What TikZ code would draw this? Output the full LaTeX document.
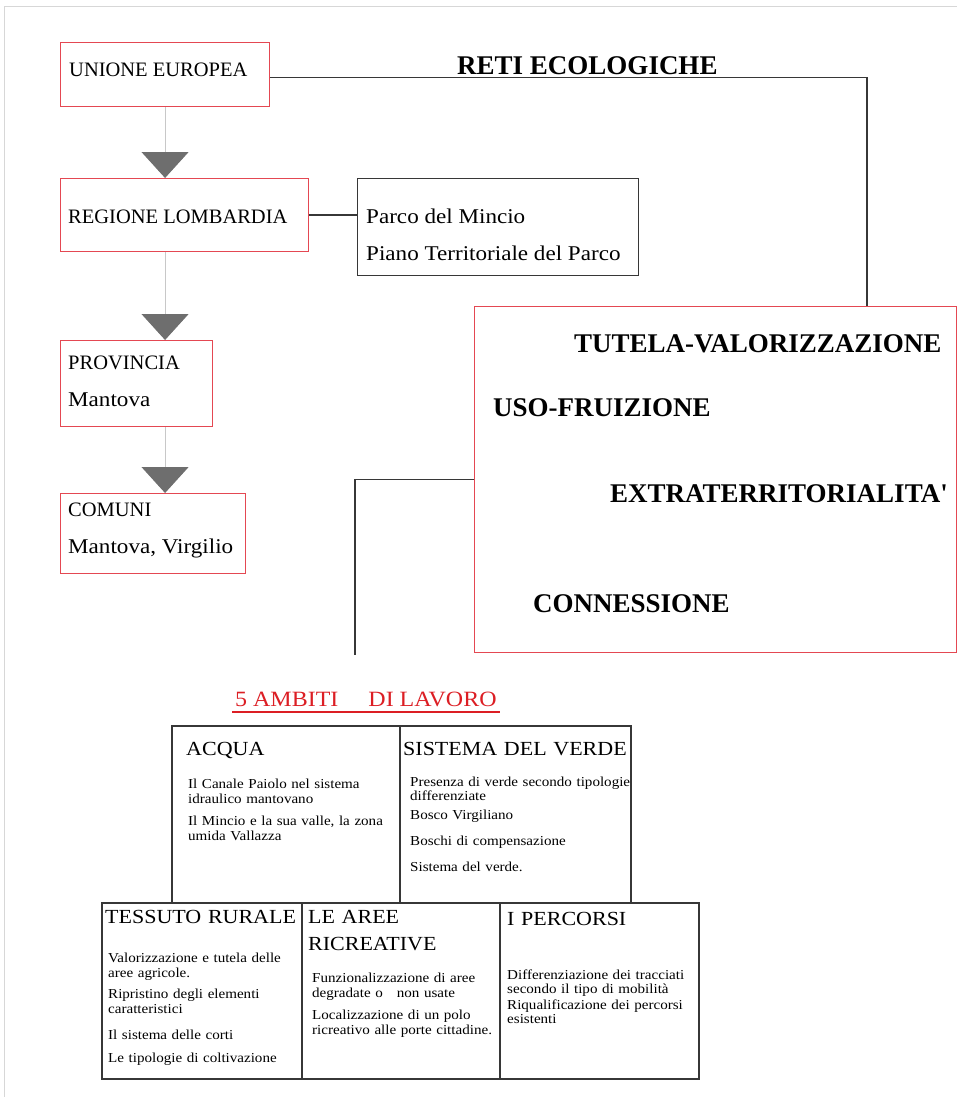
\documentclass[tikz,border=0pt]{standalone}
\usepackage{fontspec}
\setmainfont{Liberation Serif}
\newfontfamily\widefont{Liberation Serif}[FakeStretch=1.1]
\usetikzlibrary{arrows.meta}

\definecolor{boxred}{RGB}{228,72,82}
\definecolor{ambred}{RGB}{220,30,36}
\definecolor{linegray}{RGB}{55,55,55}
\definecolor{govgray}{RGB}{200,200,200}
\definecolor{trigray}{RGB}{110,110,110}
\definecolor{framegray}{RGB}{215,215,215}

\tikzset{
  redbox/.style={draw=boxred, line width=1.1pt, anchor=north west, inner sep=0pt},
  blackbox/.style={draw=linegray, line width=1.4pt, anchor=north west, inner sep=0pt},
  cellbox/.style={draw=linegray, line width=1.5pt, anchor=north west, inner sep=0pt},
  caplabel/.style={anchor=base west, inner sep=0pt, font=\fontsize{20.5}{24}\selectfont},
  mixlabel/.style={anchor=base west, inner sep=0pt, font=\widefont\fontsize{21}{24}\selectfont},
  keyword/.style={anchor=base west, inner sep=0pt, font=\bfseries\fontsize{27}{30}\selectfont},
  cellhead/.style={anchor=base west, inner sep=0pt, text width=260pt, align=left,
    font=\widefont\fontsize{20}{27}\selectfont},
  celltext/.style={anchor=base west, inner sep=0pt, text width=260pt, align=left,
    font=\widefont\fontsize{13.7}{15}\selectfont},
  conn/.style={draw=linegray, line width=1.4pt},
  govline/.style={draw=govgray, line width=1pt,
    -{Triangle[width=47pt,length=26pt,color=trigray]}},
}

\begin{document}
\begin{tikzpicture}[x=1pt,y=-1pt]
  \useasboundingbox (0,0) rectangle (957,1097);
  \clip (0,0) rectangle (957,1097);
  \fill[white] (0,0) rectangle (957,1097);
  \draw[framegray, line width=1pt] (4,1097) -- (4,7) -- (957,7);

  % livelli istituzionali
  \node[redbox, minimum width=209pt, minimum height=64pt] (ue) at (60,42) {};
  \node[redbox, minimum width=248pt, minimum height=73pt] (reg) at (60,178) {};
  \node[redbox, minimum width=152pt, minimum height=86pt] (prov) at (60,340) {};
  \node[redbox, minimum width=185pt, minimum height=80pt] (com) at (60,493) {};
  \node[blackbox, minimum width=281pt, minimum height=97pt] (parco) at (357,178) {};
  \node[redbox, minimum width=482pt, minimum height=346pt] (big) at (474,306) {};

  \node[caplabel] (uetxt) at (69,77) {UNIONE EUROPEA};
  \node[caplabel] (regtxt) at (68,223) {REGIONE LOMBARDIA};
  \node[mixlabel] (parcoa) at (366,223) {Parco del Mincio};
  \node[mixlabel] (parcob) at (366,260) {Piano Territoriale del Parco};
  \node[caplabel] (provtxt) at (68,369) {PROVINCIA};
  \node[mixlabel] (provsub) at (68,406) {Mantova};
  \node[caplabel] (comtxt) at (68,516) {COMUNI};
  \node[mixlabel] (comsub) at (68,553) {Mantova, Virgilio};

  \node[keyword] (reti) at (457,75) {RETI ECOLOGICHE};
  \node[keyword] (tutela) at (574,352) {TUTELA-VALORIZZAZIONE};
  \node[keyword] (uso) at (493,416) {USO-FRUIZIONE};
  \node[keyword] (extra) at (610,502) {EXTRATERRITORIALITA\textquotesingle};
  \node[keyword] (conness) at (533,612) {CONNESSIONE};

  \draw[govline] (ue.south) -- (ue.south |- reg.north);
  \draw[govline] (reg.south -| ue.south) -- (ue.south |- prov.north);
  \draw[govline] (prov.south -| ue.south) -- (ue.south |- com.north);
  \draw[conn] (reg.east) -- (reg.east -| parco.west);
  \draw[conn] ([yshift=-3pt]ue.east) -| ([xshift=-90pt]big.north east);
  \coordinate (ambend) at (355,655);
  \draw[conn] (big.west) -| (ambend);

  % ambiti di lavoro
  \node[anchor=base west, inner xsep=3pt, inner ysep=0pt, text=ambred,
    font=\widefont\fontsize{21.8}{24}\selectfont] (ambiti) at (232,706)
    {5 AMBITI\hspace{30pt}DI LAVORO};
  \draw[ambred, line width=1.2pt] ([yshift=-6pt]ambiti.base west) -- ([yshift=-6pt]ambiti.base east);

  \node[cellbox, minimum width=228pt, minimum height=177pt] (acqua) at (171,725) {};
  \node[cellbox, minimum width=231pt, minimum height=177pt] (verde) at (399,725) {};
  \node[cellbox, minimum width=200pt, minimum height=176pt] (tessuto) at (101,902) {};
  \node[cellbox, minimum width=198pt, minimum height=176pt] (aree) at (301,902) {};
  \node[cellbox, minimum width=199pt, minimum height=176pt] (percorsi) at (499,902) {};

  \node[cellhead] (acquah) at (186,755) {ACQUA};
  \node[cellhead] (verdeh) at (403,755) {SISTEMA DEL VERDE};
  \node[cellhead] (tessutoh) at (105,923) {TESSUTO RURALE};
  \node[cellhead] (areeh) at (308,923) {LE AREE\\RICREATIVE};
  \node[cellhead] (percorsih) at (507,925) {I PERCORSI};

  \node[celltext] (acquat) at (188,788)
    {Il Canale Paiolo nel sistema\\idraulico mantovano\\[7pt]
     Il Mincio e la sua valle, la zona\\umida Vallazza};
  \node[celltext] (verdet) at (410,786)
    {Presenza di verde secondo tipologie\\[-1pt]differenziate\\[4pt]
     Bosco Virgiliano\\[11pt]Boschi di compensazione\\[11pt]Sistema del verde.};
  \node[celltext] (tessutot) at (108,962)
    {Valorizzazione e tutela delle\\aree agricole.\\[6pt]
     Ripristino degli elementi\\caratteristici\\[11pt]
     Il sistema delle corti\\[8pt]Le tipologie di coltivazione};
  \node[celltext] (areet) at (312,982)
    {Funzionalizzazione di aree\\degradate o\hspace{14pt}non usate\\[7pt]
     Localizzazione di un polo\\ricreativo alle porte cittadine.};
  \node[celltext] (percorsit) at (507,979)
    {Differenziazione dei tracciati\\[-1pt]secondo il tipo di mobilità\\[1pt]
     Riqualificazione dei percorsi\\[-1pt]esistenti};
\end{tikzpicture}
\end{document}
